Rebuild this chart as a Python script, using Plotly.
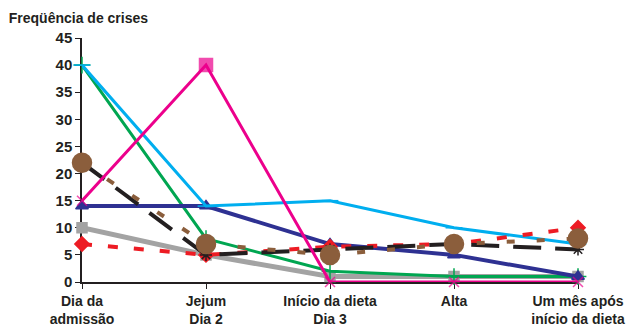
import plotly.graph_objects as go

categories = ["Dia da<br>admissão", "Jejum<br>Dia 2", "Início da dieta<br>Dia 3", "Alta", "Um mês após<br>início da dieta"]
x_pos = [0, 1, 2, 3, 4]

gray_vals = [10, 5, 1, 1, 1]
green_vals = [40, 8, 2, 1, 1]
navy_vals = [14, 14, 7, 5, 1]
cyan_vals = [40, 14, 15, 10, 7]
red_vals = [7, 5, 6.5, 7, 10]
black_vals = [22, 5, 6, 7, 6]
brown_vals = [22, 7, 5, 7, 8]
magenta_vals = [15, 40, 0, 0, 0]

fig = go.Figure()

def add(vals, color, width, dash, symbol, size, mcolor=None):
    fig.add_trace(go.Scatter(
        x=x_pos, y=vals, mode="lines+markers",
        line=dict(color=color, width=width, dash=dash),
        marker=dict(symbol=symbol, size=size, color=mcolor or color,
                    line=dict(color=mcolor or color, width=1.5)),
        cliponaxis=False, showlegend=False))

add(gray_vals, "#A3A3A3", 5, "solid", "square", 10)
add(green_vals, "#00A651", 3, "solid", "cross-thin", 12)
add(navy_vals, "#2E3192", 4, "solid", "triangle-up", 11)
add(cyan_vals, "#00AEEF", 3, "solid", "line-ew", 12)
add(red_vals, "#ED1C24", 4, "10px,16px", "diamond", 11)
add(black_vals, "#231F20", 4, "28px,14px", "asterisk-open", 10)
add(brown_vals, "#8B5E3C", 4, "8px,22px", "circle", 19)
fig.add_trace(go.Scatter(
    x=x_pos, y=magenta_vals, mode="lines+markers",
    line=dict(color="#EC008C", width=3),
    marker=dict(symbol=["x-thin-open", "square", "x-thin-open", "x-thin-open", "x-thin-open"],
                size=[10, 13, 10, 10, 10], color="#EC008C",
                line=dict(color="#EC008C", width=1.5)),
    cliponaxis=False, showlegend=False))

fig.update_layout(
    width=626, height=327,
    margin=dict(l=82, r=48, t=38, b=45),
    paper_bgcolor="white", plot_bgcolor="white",
    font=dict(family="Liberation Sans, Arial", size=14, color="#231F20"),
    title=dict(text="<b>Freqüência de crises</b>", x=0.014, xanchor="left",
               y=0.945, yanchor="middle", font=dict(size=14)),
)
fig.update_xaxes(
    range=[0, 4], tickvals=x_pos, ticktext=["<b>" + c.replace("<br>", "</b><br><b>") + "</b>" for c in categories],
    showgrid=False, zeroline=False, showline=True, linecolor="#231F20", linewidth=1.5,
    ticks="outside", ticklen=5, tickcolor="#231F20", tickfont=dict(size=14),
    automargin=False, layer="below traces",
)
fig.update_yaxes(
    range=[0, 45], dtick=5, tickformat="d",
    showgrid=False, zeroline=False, showline=True, linecolor="#231F20", linewidth=1.5,
    ticks="outside", ticklen=5, tickcolor="#231F20", tickfont=dict(size=15),
    tickprefix="<b>", ticksuffix="</b>", automargin=False, layer="below traces",
)

fig.write_html("out.html")
